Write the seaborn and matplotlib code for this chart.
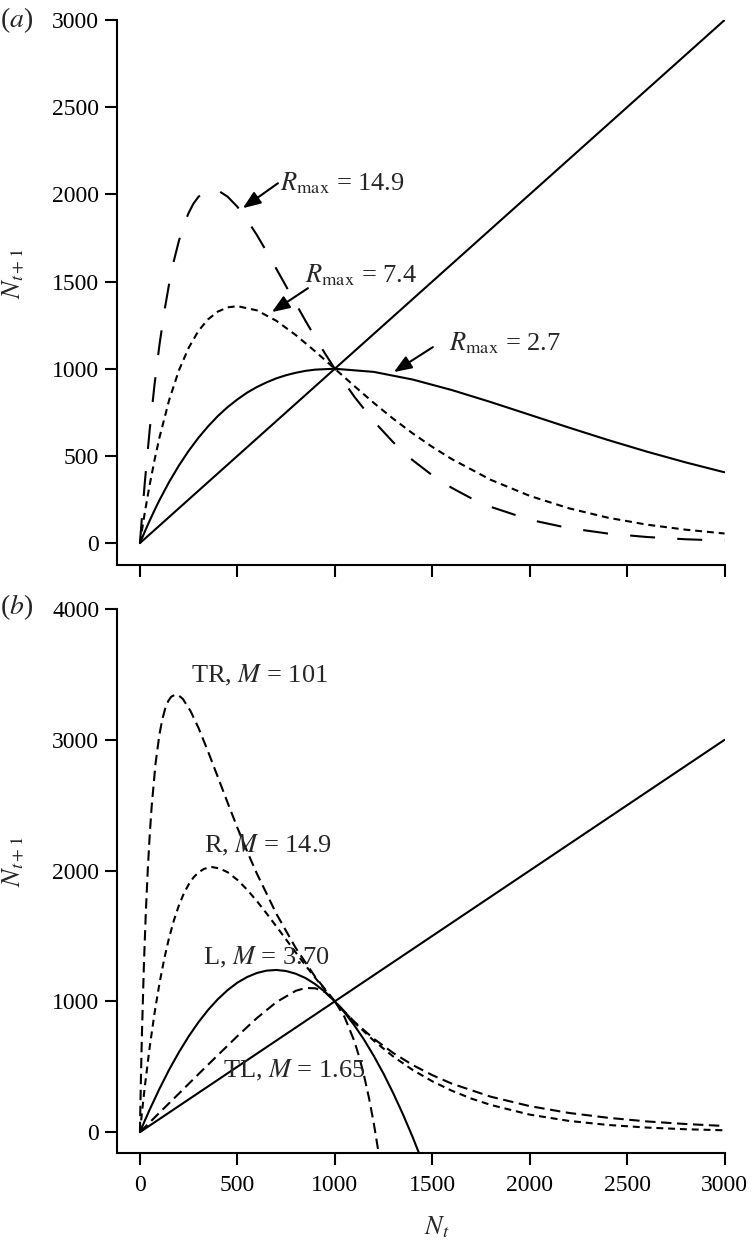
import matplotlib
matplotlib.use("Agg")
import matplotlib.pyplot as plt
import seaborn as sns

# values (N_t, N_t+1)
diag_x = [0, 3000]
diag_y = [0, 3000]

# panel (a) Ricker curves
r27_x = [0, 25, 50, 75, 100, 150, 200, 250, 300, 350, 400, 450, 500, 550, 600,
         650, 700, 750, 800, 850, 900, 1000, 1200, 1400, 1600, 1800, 2000,
         2200, 2400, 2600, 2800, 3000]
r27_y = [0, 66, 129, 189, 246, 351, 445, 529, 604, 670, 729, 780, 824, 863,
         895, 922, 945, 963, 977, 988, 995, 1000, 982, 938, 878, 809, 736, 663,
         592, 525, 463, 406]

r74_x = [0, 25, 50, 75, 100, 150, 200, 250, 300, 350, 400, 450, 500, 600, 700,
         800, 900, 1000, 1100, 1200, 1300, 1400, 1500, 1600, 1800, 2000, 2200,
         2400, 2600, 2800, 3000]
r74_y = [0, 176, 334, 477, 605, 821, 991, 1120, 1217, 1284, 1328, 1352, 1359,
         1335, 1275, 1193, 1099, 1000, 901, 804, 713, 629, 552, 482, 363, 271,
         200, 146, 106, 77, 55]

r149_x = [0, 10, 25, 50, 75, 100, 125, 150, 175, 200, 225, 250, 275, 300, 330,
          370, 410, 450, 500, 550, 600, 650, 700, 750, 800, 850, 900, 950, 1000,
          1100, 1200, 1300, 1400, 1500, 1600, 1700, 1800, 2000, 2200, 2400,
          2600, 2800, 3000]
r149_y = [0, 145, 348, 650, 911, 1136, 1327, 1489, 1623, 1734, 1824, 1894,
          1948, 1986, 2014, 2027, 2016, 1987, 1929, 1854, 1767, 1672, 1573,
          1473, 1373, 1274, 1179, 1087, 1000, 840, 699, 578, 475, 389, 317,
          257, 208, 134, 86, 55, 35, 22, 14]

# panel (b) model fits
tr_x = [0, 2, 5, 10, 20, 30, 40, 50, 60, 80, 100, 115, 130, 145, 160, 183,
        200, 220, 260, 300, 350, 400, 450, 500, 550, 600, 700, 800, 900, 1000,
        1100, 1200, 1300, 1400, 1500, 1600, 1800, 2000, 2200, 2400, 2600,
        2800, 3000]
tr_y = [0, 179, 410, 739, 1265, 1674, 2001, 2268, 2488, 2818, 3041, 3158,
        3241, 3296, 3329, 3347, 3338, 3313, 3219, 3093, 2909, 2714, 2519,
        2328, 2147, 1977, 1670, 1407, 1186, 1000, 844, 714, 605, 513, 436,
        371, 271, 199, 147, 110, 82, 62, 47]

lg_x = [0, 25, 50, 100, 150, 200, 250, 300, 350, 400, 450, 500, 550, 600, 650,
        700, 750, 800, 850, 900, 950, 1000, 1050, 1100, 1150, 1200, 1250, 1300,
        1350, 1400, 1450]
lg_y = [0, 88, 172, 331, 478, 611, 732, 840, 935, 1017, 1086, 1143, 1186,
        1217, 1235, 1240, 1232, 1211, 1178, 1131, 1072, 1000, 915, 817, 707,
        583, 447, 297, 135, -40, -228]

tl_x = [0, 100, 200, 300, 400, 500, 600, 700, 800, 850, 900, 950, 1000, 1050,
        1100, 1125, 1150, 1175, 1200, 1225, 1250]
tl_y = [0, 148, 295, 443, 589, 734, 872, 994, 1081, 1102, 1100, 1070, 1000,
        880, 697, 576, 432, 264, 67, -161, -423]

sns.set_theme(style="ticks")
plt.rcParams["font.family"] = ["Liberation Serif", "DejaVu Serif"]
plt.rcParams["mathtext.fontset"] = "stix"
plt.rcParams["lines.scale_dashes"] = False

fig = plt.figure(figsize=(7.52, 12.46), dpi=100)
ax_a = fig.add_axes([0.155, 0.5465, 0.8085, 0.4374])
ax_b = fig.add_axes([0.155, 0.0746, 0.8085, 0.4366])

LW = 1.5
long_dash = (0, (18, 16))
short_dash = (0, (5, 3.5))
mid_dash = (0, (7.5, 4))


def curve(ax, x, y, ls="-"):
    sns.lineplot(x=x, y=y, ax=ax, color="black", lw=LW, linestyle=ls,
                 estimator=None, sort=False, errorbar=None)


curve(ax_a, diag_x, diag_y)
curve(ax_a, r27_x, r27_y)
curve(ax_a, r74_x, r74_y, short_dash)
curve(ax_a, r149_x, r149_y, long_dash)

curve(ax_b, diag_x, diag_y)
curve(ax_b, tr_x, tr_y, mid_dash)
curve(ax_b, r149_x, r149_y, short_dash)
curve(ax_b, lg_x, lg_y)
curve(ax_b, tl_x, tl_y, mid_dash)

fs_tick = 17
fs_txt = 19
arrow = dict(arrowstyle="-|>,head_length=0.9,head_width=0.35", color="black",
             lw=1.5, shrinkA=0, shrinkB=0)

ann_a = [(r"$R_{\rm max}$ = 14.9", (718, 2064), (708, 2064), (528, 1921)),
         (r"$R_{\rm max}$ = 7.4", (846, 1537), (862, 1462), (677, 1325)),
         (r"$R_{\rm max}$ = 2.7", (1585, 1147), (1503, 1124), (1303, 981))]
for txt, pos, tail, head in ann_a:
    ax_a.text(pos[0], pos[1], txt, fontsize=fs_txt, ha="left", va="center")
    ax_a.annotate("", xy=head, xytext=tail, arrowprops=arrow)

ann_b = [("TR, $M$ = 101", (262, 3494)),
         ("R, $M$ = 14.9", (328, 2194)),
         ("L, $M$ = 3.70", (323, 1338)),
         ("TL, $M$ = 1.65", (426, 474))]
for txt, pos in ann_b:
    ax_b.text(pos[0], pos[1], txt, fontsize=fs_txt, ha="left", va="center")

ax_a.set_xlim(-120, 3000)
ax_a.set_ylim(-126, 3000)
ax_a.set_xticks(range(0, 3001, 500))
ax_a.set_xticklabels([])
ax_a.set_yticks(range(0, 3001, 500))

ax_b.set_xlim(-120, 3000)
ax_b.set_ylim(-160, 4000)
ax_b.set_xticks(range(0, 3001, 500))
ax_b.set_yticks(range(0, 4001, 1000))

for ax in (ax_a, ax_b):
    sns.despine(ax=ax)
    for s in ("left", "bottom"):
        ax.spines[s].set_linewidth(1.5)
        ax.spines[s].set_color("black")
    ax.tick_params(direction="out", length=8.5, width=1.5, colors="black",
                   labelsize=fs_tick, pad=4)
    ax.tick_params(axis="x", pad=7)
    ax.set_ylabel("$N_{t+1}$", fontsize=fs_txt)
    ax.yaxis.set_label_coords(-0.148, 0.535)
    ax.set_xlabel("")

ax_b.set_xlabel("$N_t$", fontsize=fs_txt)
ax_b.xaxis.set_label_coords(0.526, -0.112)

fig.text(0.0, 1 - 20 / 1246, "($a$)", fontsize=20, ha="left", va="center")
fig.text(0.0, 1 - 607 / 1246, "($b$)", fontsize=20, ha="left", va="center")

fig.savefig("out.png", dpi=100)
